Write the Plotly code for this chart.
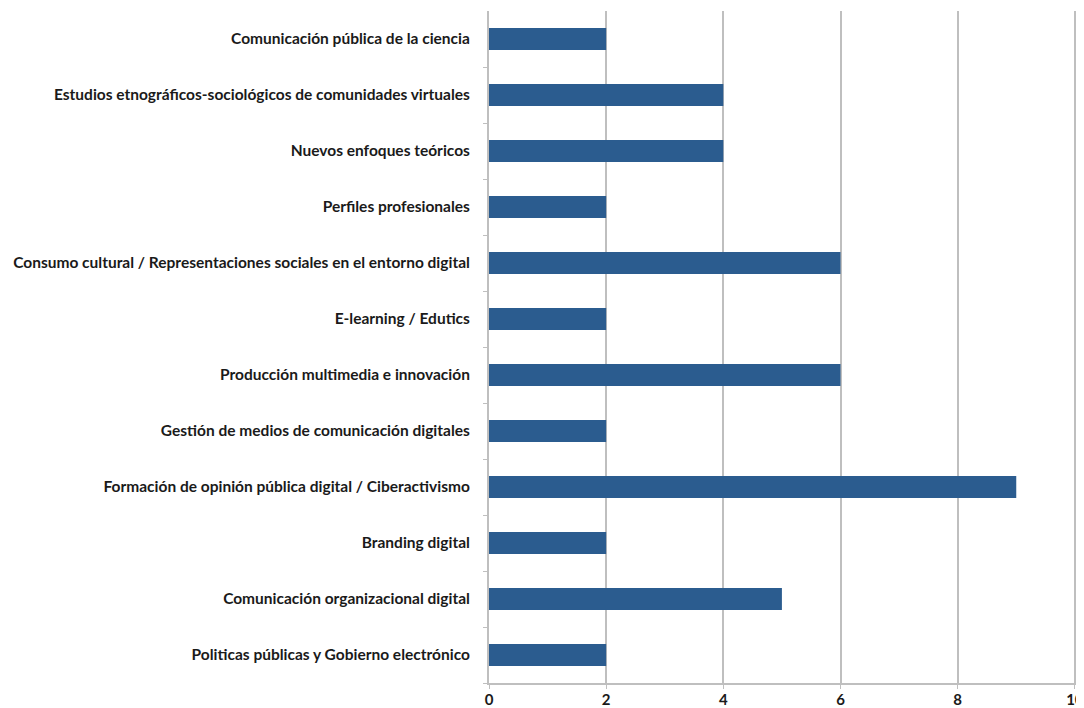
import plotly.graph_objects as go

categories = [
    "Comunicación pública de la ciencia",
    "Estudios etnográficos-sociológicos de comunidades virtuales",
    "Nuevos enfoques teóricos",
    "Perfiles profesionales",
    "Consumo cultural / Representaciones sociales en el entorno digital",
    "E-learning / Edutics",
    "Producción multimedia e innovación",
    "Gestión de medios de comunicación digitales",
    "Formación de opinión pública digital / Ciberactivismo",
    "Branding digital",
    "Comunicación organizacional digital",
    "Politicas públicas y Gobierno electrónico",
]
values = [2, 4, 4, 2, 6, 2, 6, 2, 9, 2, 5, 2]
x_ticks = [0, 2, 4, 6, 8, 10]

font_family = "Lato, Liberation Sans, sans-serif"

fig = go.Figure(
    go.Bar(
        y=categories,
        x=values,
        orientation="h",
        marker=dict(color="#2B5C8F", line=dict(width=0)),
        width=0.39,
    )
)

fig.update_layout(
    width=1076,
    height=700,
    margin=dict(l=481, r=8, t=3, b=25),
    plot_bgcolor="white",
    paper_bgcolor="white",
    showlegend=False,
    font=dict(family=font_family, size=15.5, color="#1a1a1a"),
)

fig.update_xaxes(
    range=[0, 10.02],
    tickvals=x_ticks,
    ticktext=[f"<b>{v}</b>" for v in x_ticks],
    showgrid=True,
    gridcolor="#BFBFBF",
    gridwidth=2,
    showline=True,
    linecolor="#BFBFBF",
    linewidth=2,
    ticks="outside",
    ticklen=4,
    tickcolor="#BFBFBF",
    zeroline=False,
    tickfont=dict(size=15),
    ticklabeloverflow="allow",
    ticklabelstandoff=-2,
    automargin=False,
)

fig.update_yaxes(
    categoryorder="array",
    categoryarray=categories[::-1],
    tickvals=categories,
    ticktext=[f"<b>{c}</b>" for c in categories],
    showline=True,
    linecolor="#BFBFBF",
    linewidth=2,
    ticks="outside",
    tickson="boundaries",
    ticklen=4,
    tickcolor="#BFBFBF",
    showgrid=False,
    ticklabelstandoff=14,
    tickfont=dict(size=15.5),
    automargin=False,
)

fig.write_html("out.html")
